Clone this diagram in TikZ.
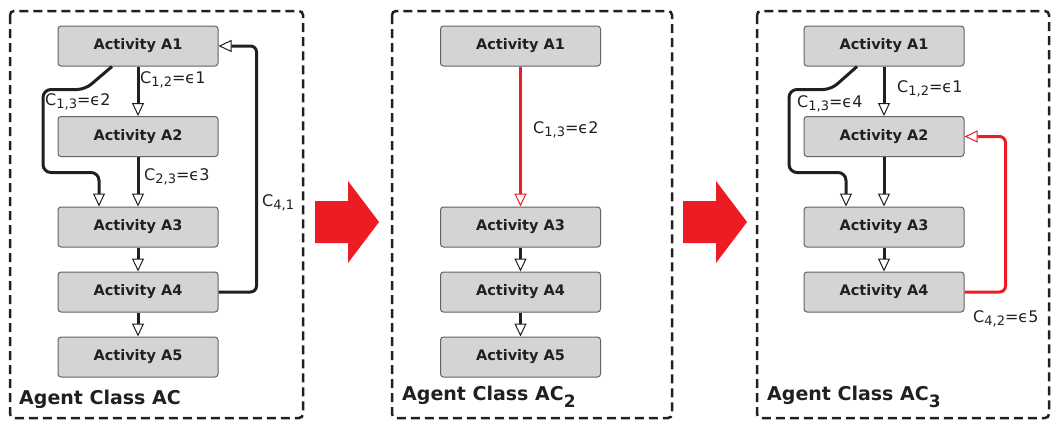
\documentclass[tikz,border=0pt]{standalone}
\usepackage{fontspec}
\setmainfont{DejaVu Sans}
\usetikzlibrary{arrows.meta}

\definecolor{ink}{HTML}{231F20}
\definecolor{boxgray}{HTML}{D4D4D4}
\definecolor{alarm}{HTML}{ED1C24}

\newcommand\activity[4]{\node[activity] (#1) at (#2,#3) {#4} ; }
\newcommand\panel[4]{\draw[panelframe] (#1,#2) rectangle (#3,#4) ; }
\newcommand\bigarrow[1]{
    \fill[alarm] (#1,201) -- (#1+33,201) -- (#1+33,181) -- (#1+64,222)
        -- (#1+33,263) -- (#1+33,243) -- (#1,243) -- cycle ;
}
\newcommand\csub[1]{\raisebox{-0.45ex}{\fontsize{13}{13}\selectfont #1}}
\newcommand\classsub[1]{\raisebox{-7pt}{\fontsize{17}{17}\selectfont #1}}

\begin{document}
\begin{tikzpicture}[x=1pt, y=-1pt,
    activity/.style={draw=ink!70, fill=boxgray, line width=1pt, rounded corners=3pt,
        minimum width=160pt, minimum height=40pt, inner sep=0,
        text=ink, font=\fontsize{14.5}{16}\selectfont\bfseries},
    flow/.style={draw=ink, line width=3pt,
        -{Triangle[length=13pt, width=12pt, fill=white, line width=1pt]}},
    redflow/.style={flow, draw=alarm},
    cost/.style={anchor=base west, inner sep=0, text=ink, font=\fontsize{16}{18}\selectfont},
    classname/.style={anchor=base west, inner sep=0, text=ink, font=\fontsize{19}{22}\selectfont\bfseries},
    panelframe/.style={draw=ink, line width=2.5pt, dash pattern=on 9pt off 5pt, rounded corners=4pt}]
    \useasboundingbox (0,0) rectangle (1052,421);

    % panel 1: agent class AC
    \panel{10}{11}{303}{418}
    \activity{p1a1}{138}{46}{Activity A1}
    \activity{p1a2}{138}{136.5}{Activity A2}
    \activity{p1a3}{138}{227}{Activity A3}
    \activity{p1a4}{138}{292}{Activity A4}
    \activity{p1a5}{138}{357}{Activity A5}
    \draw[flow] (p1a1) -- (p1a2);
    \draw[flow] (p1a2) -- (p1a3);
    \draw[flow] (p1a3) -- (p1a4);
    \draw[flow] (p1a4) -- (p1a5);
    % skip from A1 round the left to A3
    \draw[flow, rounded corners=8pt] ([xshift=-26pt]p1a1.south) -- ++(-27,23) -- ++(-42,0)
        -- ++(0,83) -| ([xshift=-39pt]p1a3.north);
    % loop back from A4 to A1
    \draw[flow, rounded corners=6pt] (p1a4.east) -- ++(38,0) |- (p1a1.east);
    \node[cost] (p1c12) at (140,83) {C\csub{1,2}=ϵ1};
    \node[cost] (p1c13) at (45,105) {C\csub{1,3}=ϵ2};
    \node[cost] (p1c23) at (144,180) {C\csub{2,3}=ϵ3};
    \node[cost] (p1c41) at (262,206) {C\csub{4,1}};
    \node[classname] (p1name) at (19,404) {Agent Class AC};

    \bigarrow{315}

    % panel 2: agent class AC2
    \panel{392}{11}{672}{418}
    \activity{p2a1}{520.5}{46}{Activity A1}
    \activity{p2a3}{520.5}{227}{Activity A3}
    \activity{p2a4}{520.5}{292}{Activity A4}
    \activity{p2a5}{520.5}{357}{Activity A5}
    \draw[redflow] (p2a1) -- (p2a3);
    \draw[flow] (p2a3) -- (p2a4);
    \draw[flow] (p2a4) -- (p2a5);
    \node[cost] (p2c13) at (533,133) {C\csub{1,3}=ϵ2};
    \node[classname] (p2name) at (402,400) {Agent Class AC\classsub{2}};

    \bigarrow{683}

    % panel 3: agent class AC3
    \panel{757}{11}{1049}{418}
    \activity{p3a1}{884}{46}{Activity A1}
    \activity{p3a2}{884}{136.5}{Activity A2}
    \activity{p3a3}{884}{227}{Activity A3}
    \activity{p3a4}{884}{292}{Activity A4}
    \draw[flow] (p3a1) -- (p3a2);
    \draw[flow] (p3a2) -- (p3a3);
    \draw[flow] (p3a3) -- (p3a4);
    % skip from A1 round the left to A3
    \draw[flow, rounded corners=8pt] ([xshift=-27pt]p3a1.south) -- ++(-26,23) -- ++(-42,0)
        -- ++(0,83) -| ([xshift=-38pt]p3a3.north);
    % new link from A4 back to A2
    \draw[redflow, rounded corners=6pt] (p3a4.east) -- ++(41,0) |- (p3a2.east);
    \node[cost] (p3c12) at (897,92) {C\csub{1,2}=ϵ1};
    \node[cost] (p3c13) at (797,107) {C\csub{1,3}=ϵ4};
    \node[cost] (p3c42) at (973,322) {C\csub{4,2}=ϵ5};
    \node[classname] (p3name) at (767,400) {Agent Class AC\classsub{3}};
\end{tikzpicture}
\end{document}
